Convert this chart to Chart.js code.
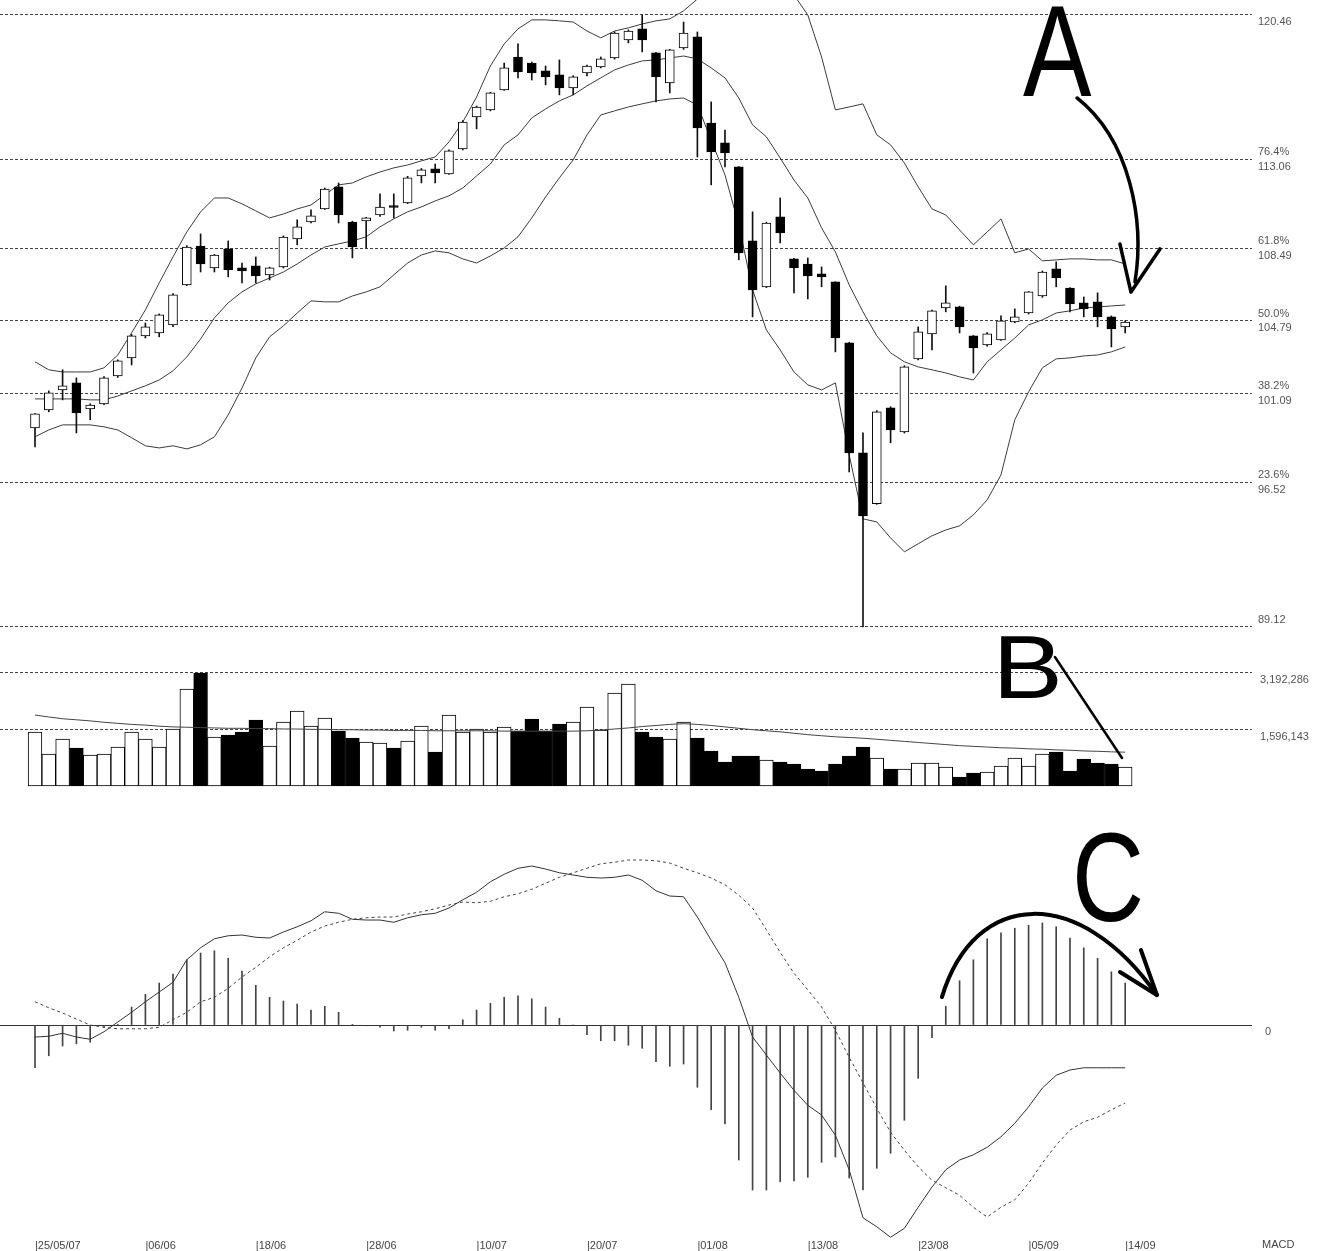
<!DOCTYPE html>
<html>
<head>
<meta charset="utf-8">
<script src="https://cdn.jsdelivr.net/npm/chart.js@4.4.1/dist/chart.umd.min.js"></script>
<style>
  html, body { margin: 0; padding: 0; background: #fff; }
  #wrap { width: 1334px; height: 1251px; }
</style>
</head>
<body>
<div id="wrap"><canvas id="chart" width="1334" height="1251"></canvas></div>
<script>
// trading days shown on the chart
const dates = [
  '25/05/07','28/05/07','29/05/07','30/05/07','31/05/07','01/06/07','04/06/07','05/06/07','06/06/07','07/06/07',
  '08/06/07','11/06/07','12/06/07','13/06/07','14/06/07','15/06/07','18/06/07','19/06/07','20/06/07','21/06/07',
  '22/06/07','25/06/07','26/06/07','27/06/07','28/06/07','29/06/07','02/07/07','03/07/07','04/07/07','05/07/07',
  '06/07/07','09/07/07','10/07/07','11/07/07','12/07/07','13/07/07','16/07/07','17/07/07','18/07/07','19/07/07',
  '20/07/07','23/07/07','24/07/07','25/07/07','26/07/07','27/07/07','30/07/07','31/07/07','01/08/07','02/08/07',
  '03/08/07','06/08/07','07/08/07','08/08/07','09/08/07','10/08/07','13/08/07','14/08/07','15/08/07','16/08/07',
  '17/08/07','20/08/07','21/08/07','22/08/07','23/08/07','24/08/07','28/08/07','29/08/07','30/08/07','31/08/07',
  '03/09/07','04/09/07','05/09/07','06/09/07','07/09/07','10/09/07','11/09/07','12/09/07','13/09/07','14/09/07'
];
const dateTicks = [0, 8, 16, 24, 32, 40, 48, 56, 64, 72, 79];

const openP = [
  99.32,100.24,101.26,101.62,100.29,100.55,101.98,102.90,104.03,104.18,
  104.59,106.64,108.63,107.51,108.48,107.51,107.61,107.15,107.56,108.99,
  109.86,110.53,111.66,109.86,109.91,110.22,110.70,110.84,112.22,112.58,
  112.32,113.60,115.24,115.60,116.62,118.31,118.00,117.60,117.39,116.72,
  117.49,117.80,118.26,119.18,119.75,118.52,116.98,118.77,119.34,114.93,
  113.91,112.68,108.89,106.54,110.12,107.97,107.71,107.20,106.79,103.67,
  98.04,95.43,100.34,99.11,102.85,104.13,105.46,105.51,104.03,103.57,
  103.82,104.74,105.20,106.07,107.46,106.48,105.72,105.77,105.00,104.49
];
const highP = [
  100.05,101.21,102.29,101.88,100.55,101.95,102.80,104.10,104.69,105.15,
  106.20,108.65,109.25,108.20,108.89,107.76,108.07,107.55,109.15,109.97,
  110.48,111.60,111.86,109.90,110.10,111.30,111.30,112.20,112.60,112.83,
  113.55,115.05,115.80,116.50,118.00,118.98,118.05,117.85,118.16,117.35,
  117.90,118.31,119.60,119.70,120.46,118.55,118.70,120.10,119.59,116.01,
  114.57,112.70,110.38,109.85,111.09,108.00,108.02,107.56,106.80,103.70,
  99.06,100.20,100.40,102.50,104.49,105.35,106.59,105.55,104.05,104.20,
  105.05,105.41,106.30,107.35,107.82,106.50,106.02,106.23,105.05,104.80
];
const lowP = [
  98.34,100.14,100.75,99.06,99.73,100.50,101.90,102.54,103.92,103.98,
  104.50,106.60,107.30,107.30,107.05,106.74,106.74,106.89,107.50,108.69,
  109.81,110.50,109.81,108.02,108.53,110.15,110.07,110.80,111.86,111.86,
  112.30,113.55,114.63,115.55,116.60,117.24,117.13,116.88,116.37,116.37,
  117.34,117.75,118.20,119.03,118.57,116.01,116.47,118.70,113.19,111.76,
  112.68,107.92,105.00,106.50,108.79,106.23,105.92,106.54,103.21,97.06,
  89.12,95.40,98.55,99.05,102.80,103.31,105.26,104.18,102.13,103.50,
  103.80,104.70,105.15,106.00,106.54,105.26,105.00,104.49,103.46,104.18
];
const closeP = [
  100.03,101.11,101.47,100.08,100.49,101.88,102.75,104.03,104.49,105.10,
  106.13,108.58,107.71,108.17,107.41,107.36,107.10,107.51,109.09,109.61,
  110.17,111.55,110.22,108.58,110.07,110.63,110.60,112.12,112.53,112.37,
  113.50,114.98,115.75,116.47,117.75,117.54,117.49,117.29,116.72,117.29,
  117.85,118.21,119.54,119.64,119.18,117.29,118.67,119.54,114.68,113.45,
  113.40,108.28,106.38,109.81,109.30,107.51,107.10,107.05,103.92,98.04,
  94.81,100.14,99.21,102.44,104.23,105.31,105.72,104.49,103.41,104.13,
  104.80,105.00,106.28,107.30,107.00,105.66,105.41,105.00,104.38,104.74
];

// bollinger bands
const bbUpper = [
  102.70,102.29,102.18,102.18,102.18,102.39,103.05,104.18,105.36,106.74,
  108.07,109.35,110.38,111.09,111.09,110.79,110.43,110.07,110.27,110.53,
  110.73,111.25,111.76,111.86,112.17,112.42,112.63,112.78,112.99,113.19,
  113.96,114.98,116.26,117.85,118.98,119.75,120.21,120.21,120.16,120.10,
  119.64,119.29,119.64,119.80,120.00,120.16,120.26,120.67,121.28,121.84,
  122.46,123.02,123.38,123.18,122.51,121.49,120.46,118.31,115.60,115.75,
  115.91,114.32,113.81,112.88,111.66,110.53,110.22,109.45,108.69,109.35,
  110.02,108.28,108.48,107.87,107.92,107.97,107.97,107.92,107.92,107.71
];
const bbMiddle = [
  100.80,100.80,100.80,100.80,100.75,100.75,100.95,101.21,101.47,101.77,
  102.24,102.95,103.87,104.95,105.72,106.28,106.69,106.99,107.30,107.71,
  108.17,108.58,108.74,108.89,109.10,109.61,110.02,110.38,110.63,110.94,
  111.20,111.60,112.22,112.83,113.81,114.32,115.19,115.65,116.06,116.37,
  116.83,117.24,117.65,117.90,118.11,118.16,118.26,118.36,118.21,117.75,
  117.24,116.21,114.83,114.22,113.14,112.01,111.09,109.56,108.33,106.64,
  105.26,104.03,103.16,102.70,102.44,102.29,102.13,101.93,101.77,102.70,
  103.31,103.92,104.59,104.85,105.20,105.31,105.46,105.51,105.56,105.61
];
const bbLower = [
  98.86,99.21,99.47,99.47,99.47,99.37,99.21,98.81,98.40,98.29,
  98.40,98.24,98.45,98.86,99.98,101.36,102.90,103.98,104.54,105.20,
  105.82,105.77,105.77,106.07,106.28,106.54,107.15,107.76,108.17,108.38,
  108.28,107.97,107.76,108.12,108.53,109.10,110.07,111.14,112.12,113.04,
  114.32,115.34,115.55,115.75,115.91,116.06,116.16,116.21,115.85,114.06,
  112.27,109.71,106.38,104.33,103.31,102.18,101.52,101.26,101.62,97.93,
  94.66,94.50,93.68,92.97,93.38,93.79,94.09,94.30,94.86,95.63,
  96.91,99.73,101.16,102.39,102.85,102.90,103.00,103.05,103.21,103.46
];

const volume = [
  1525500,904000,1327750,1073500,875750,904000,1101750,1525500,1327750,1101750,
  1610250,2740250,3192286,1384250,1440750,1525500,1864500,1130000,1808000,2118750,
  1695000,1921000,1553750,1356000,1243000,1214750,1073500,1271250,1695000,960500,
  2005750,1525500,1610250,1525500,1666750,1553750,1892750,1553750,1751500,1808000,
  2231750,1582000,2627250,2881500,1525500,1384250,1327750,1808000,1356000,988750,
  678000,847500,847500,734500,678000,621500,480250,423750,621500,847500,
  1101750,791000,480250,480250,649750,649750,536750,254250,367250,395500,
  565000,791000,565000,904000,960500,423750,762750,649750,621500,536750
];
const volumeAvg = [
  2005000,1950000,1900000,1870000,1840000,1800000,1770000,1740000,1720000,1690000,
  1670000,1660000,1650000,1640000,1630000,1630000,1620000,1620000,1610000,1610000,
  1600000,1600000,1590000,1590000,1580000,1580000,1570000,1570000,1570000,1560000,
  1560000,1560000,1560000,1560000,1550000,1550000,1550000,1550000,1550000,1550000,
  1560000,1580000,1610000,1640000,1680000,1710000,1740000,1760000,1740000,1710000,
  1670000,1630000,1590000,1560000,1530000,1490000,1450000,1420000,1390000,1370000,
  1350000,1320000,1290000,1260000,1230000,1200000,1170000,1140000,1120000,1100000,
  1080000,1070000,1050000,1040000,1020000,1010000,990000,980000,965000,955000
];

const macdLine = [
  -0.16,-0.15,-0.11,-0.16,-0.19,-0.09,0.04,0.17,0.31,0.44,
  0.57,0.87,1.03,1.15,1.19,1.20,1.17,1.16,1.24,1.31,
  1.39,1.51,1.49,1.41,1.40,1.40,1.37,1.43,1.47,1.49,
  1.56,1.67,1.77,1.91,2.01,2.09,2.12,2.08,2.03,2.00,
  1.97,1.96,1.97,2.00,1.93,1.79,1.72,1.71,1.44,1.13,
  0.83,0.37,-0.16,-0.40,-0.64,-0.87,-1.07,-1.20,-1.47,-1.93,
  -2.57,-2.69,-2.83,-2.71,-2.43,-2.16,-1.93,-1.80,-1.73,-1.63,
  -1.49,-1.31,-1.09,-0.84,-0.67,-0.60,-0.57,-0.57,-0.57,-0.57
];
const signalLine = [
  0.31,0.23,0.16,0.08,0.00,-0.03,-0.05,-0.05,-0.05,-0.03,
  0.07,0.17,0.31,0.37,0.49,0.64,0.77,0.91,1.03,1.13,
  1.24,1.32,1.37,1.41,1.43,1.44,1.44,1.48,1.51,1.55,
  1.60,1.64,1.63,1.65,1.71,1.75,1.81,1.89,1.97,2.03,
  2.09,2.15,2.17,2.20,2.20,2.19,2.16,2.09,2.03,1.96,
  1.87,1.73,1.56,1.27,0.97,0.69,0.47,0.24,-0.07,-0.43,
  -0.77,-1.11,-1.43,-1.67,-1.89,-2.07,-2.17,-2.27,-2.43,-2.56,
  -2.43,-2.33,-2.11,-1.84,-1.60,-1.40,-1.29,-1.23,-1.13,-1.04
];
const macdHist = [
  -0.57,-0.41,-0.28,-0.25,-0.23,-0.03,0.01,0.24,0.41,0.56,
  0.68,0.87,0.96,0.99,0.89,0.72,0.53,0.37,0.32,0.28,
  0.20,0.25,0.17,0.01,-0.01,-0.03,-0.08,-0.07,-0.03,-0.07,
  -0.05,0.07,0.20,0.29,0.37,0.39,0.35,0.24,0.09,0.00,
  -0.13,-0.21,-0.21,-0.27,-0.31,-0.49,-0.55,-0.52,-0.83,-1.13,
  -1.32,-1.80,-2.20,-2.20,-2.09,-2.08,-2.03,-1.83,-1.76,-2.04,
  -2.20,-1.91,-1.71,-1.27,-0.71,-0.17,0.25,0.59,0.87,1.15,
  1.23,1.29,1.33,1.36,1.31,1.16,1.03,0.89,0.71,0.56
];

// fibonacci retracement levels (low -> high) and volume guide levels
const fibLevels = [89.12, 96.52, 101.09, 104.79, 108.49, 113.06, 120.46];
const fibPct = ['', '23.6%', '38.2%', '50.0%', '61.8%', '76.4%', ''];
const volLevels = [1596143, 3192286];

const isUp = closeP.map((c, i) => c >= openP[i]);
const pts = arr => arr.map((v, i) => ({ x: i, y: v }));

Chart.defaults.font.family = '"Liberation Sans", Arial, sans-serif';

// letters and arrows drawn over the chart, positioned in data units
const notes = [
  { letter: 'A', axis: 'yP', box: [71.6, 76.59, 120.92, 116.31] },
  { letter: 'B', axis: 'yV', box: [70.0, 74.13, 4209250, 2486000] },
  { letter: 'C', axis: 'yM', box: [75.51, 80.14, 2.573, 1.373] }
];
const arrows = [
  { axis: 'yP', width: 3.5, curve: [[75.51, 116.21], [79.35, 114.06], [80.43, 109.96], [79.71, 106.79]],
    head: [[78.62, 108.73], [79.42, 106.27], [81.52, 108.48]] },
  { axis: 'yV', width: 2.5, line: [[73.91, 3644250], [78.77, 791000]] },
  { axis: 'yM', width: 4, curve: [[65.72, 0.373], [68.12, 1.827], [75.72, 1.867], [81.30, 0.40]],
    head: [[80.14, 1.0], [81.30, 0.40], [78.62, 0.707]] }
];

const notesPlugin = {
  id: 'notes',
  // the three value axes share one label column on the right
  afterLayout(chart) {
    const p = chart.scales.yP;
    ['yV', 'yM'].forEach(id => {
      chart.scales[id].left = p.left;
      chart.scales[id].right = p.right;
    });
  },
  afterDraw(chart) {
    const ctx = chart.ctx;
    const sx = chart.scales.x;
    const P = (axis, p) => [sx.getPixelForValue(p[0]), chart.scales[axis].getPixelForValue(p[1])];

    ctx.save();
    ctx.fillStyle = '#000';
    notes.forEach(n => {
      const l = sx.getPixelForValue(n.box[0]), r = sx.getPixelForValue(n.box[1]);
      const t = chart.scales[n.axis].getPixelForValue(n.box[2]);
      const b = chart.scales[n.axis].getPixelForValue(n.box[3]);
      ctx.save();
      ctx.font = '100px "Liberation Sans", Arial, sans-serif';
      ctx.textAlign = 'left';
      ctx.textBaseline = 'alphabetic';
      const m = ctx.measureText(n.letter);
      const w = m.actualBoundingBoxLeft + m.actualBoundingBoxRight;
      const h = m.actualBoundingBoxAscent + m.actualBoundingBoxDescent;
      ctx.translate(l, t);
      ctx.scale((r - l) / w, (b - t) / h);
      ctx.fillText(n.letter, m.actualBoundingBoxLeft, m.actualBoundingBoxAscent);
      ctx.restore();
    });

    ctx.strokeStyle = '#000';
    ctx.lineCap = 'round';
    ctx.lineJoin = 'round';
    arrows.forEach(a => {
      ctx.lineWidth = a.width;
      ctx.beginPath();
      if (a.curve) {
        const c = a.curve.map(p => P(a.axis, p));
        ctx.moveTo(c[0][0], c[0][1]);
        ctx.bezierCurveTo(c[1][0], c[1][1], c[2][0], c[2][1], c[3][0], c[3][1]);
      } else {
        const c = a.line.map(p => P(a.axis, p));
        ctx.moveTo(c[0][0], c[0][1]);
        ctx.lineTo(c[1][0], c[1][1]);
      }
      ctx.stroke();
      if (a.head) {
        const h = a.head.map(p => P(a.axis, p));
        ctx.beginPath();
        ctx.moveTo(h[0][0], h[0][1]);
        ctx.lineTo(h[1][0], h[1][1]);
        ctx.lineTo(h[2][0], h[2][1]);
        ctx.stroke();
      }
    });

    // indicator name under the right axis column
    ctx.fillStyle = '#444';
    ctx.font = '11px "Liberation Sans", Arial, sans-serif';
    ctx.textAlign = 'left';
    ctx.textBaseline = 'top';
    ctx.fillText('MACD', chart.chartArea.right + 10, sx.top);
    ctx.restore();
  }
};

const tickFont = { size: 11, lineHeight: 1.35 };
const fitY = w => s => { s.width = w; s.paddingTop = 0; s.paddingBottom = 0; };

new Chart(document.getElementById('chart'), {
  type: 'bar',
  data: {
    datasets: [
      { type: 'line', data: pts(bbUpper), yAxisID: 'yP', borderColor: '#3c3c3c', borderWidth: 1, pointRadius: 0, order: 3 },
      { type: 'line', data: pts(bbMiddle), yAxisID: 'yP', borderColor: '#3c3c3c', borderWidth: 1, pointRadius: 0, order: 3 },
      { type: 'line', data: pts(bbLower), yAxisID: 'yP', borderColor: '#3c3c3c', borderWidth: 1, pointRadius: 0, order: 3 },
      // wicks
      { data: lowP.map((l, i) => ({ x: i, y: [l, highP[i]] })), yAxisID: 'yP',
        backgroundColor: '#111', maxBarThickness: 1, order: 2 },
      // bodies
      { data: openP.map((o, i) => ({ x: i, y: [o, closeP[i]] })), yAxisID: 'yP',
        backgroundColor: isUp.map(u => u ? '#fff' : '#000'), borderColor: '#000', borderWidth: 1,
        borderSkipped: false, maxBarThickness: 9, order: 1 },
      // volume
      { data: pts(volume), yAxisID: 'yV',
        backgroundColor: isUp.map(u => u ? '#fff' : '#000'), borderColor: '#000', borderWidth: 1,
        borderSkipped: false, order: 2 },
      { type: 'line', data: pts(volumeAvg), yAxisID: 'yV', borderColor: '#444', borderWidth: 1, pointRadius: 0, order: 0 },
      // macd
      { data: pts(macdHist), yAxisID: 'yM', backgroundColor: '#444', maxBarThickness: 1, order: 2 },
      { type: 'line', data: pts(macdLine), yAxisID: 'yM', borderColor: '#333', borderWidth: 1, pointRadius: 0, order: 1 },
      { type: 'line', data: pts(signalLine), yAxisID: 'yM', borderColor: '#444', borderWidth: 1, borderDash: [3, 3], pointRadius: 0, order: 1 }
    ]
  },
  options: {
    responsive: false,
    animation: false,
    layout: { padding: 0 },
    datasets: { bar: { grouped: false, categoryPercentage: 1, barPercentage: 1 } },
    plugins: { legend: { display: false }, tooltip: { enabled: false } },
    scales: {
      x: {
        type: 'linear', min: -2.536, max: 88.19, offset: false,
        afterBuildTicks: s => { s.ticks = dateTicks.map(v => ({ value: v })); },
        afterFit: s => { s.height = 12; s.paddingLeft = 0; s.paddingRight = 0; },
        grid: { display: false, drawTicks: false },
        border: { display: false },
        ticks: {
          align: 'start', padding: 0, autoSkip: false, maxRotation: 0, color: '#444', font: { size: 11 },
          callback: v => '|' + (v === 0 ? dates[v] : dates[v].slice(0, 5))
        }
      },
      yP: {
        type: 'linear', position: 'right', min: 57.78, max: 121.228,
        afterBuildTicks: s => { s.ticks = fibLevels.map(v => ({ value: v })); },
        afterFit: fitY(82),
        grid: { color: '#444', lineWidth: 1, drawTicks: false },
        border: { display: false, dash: [3, 2] },
        ticks: {
          padding: 6, autoSkip: false, color: '#555', font: tickFont,
          callback: (v, i) => {
            const s = fibLevels[i].toFixed(2);
            if (fibPct[i]) return [fibPct[i], s];
            return i === 0 ? [s, ''] : ['', s];
          }
        }
      },
      yV: {
        type: 'linear', position: 'right', min: -12797386, max: 22204736,
        afterBuildTicks: s => { s.ticks = volLevels.map(v => ({ value: v })); },
        afterFit: fitY(0),
        grid: { color: '#444', lineWidth: 1, drawTicks: false },
        border: { display: false, dash: [3, 2] },
        ticks: {
          padding: 8, autoSkip: false, color: '#555', font: tickFont,
          callback: (v, i) => ['', volLevels[i].toLocaleString('en-US')]
        }
      },
      yM: {
        type: 'linear', position: 'right', min: -2.853, max: 13.667,
        afterBuildTicks: s => { s.ticks = [{ value: 0 }]; },
        afterFit: fitY(0),
        grid: { color: '#333', lineWidth: 1, drawTicks: false },
        border: { display: false },
        ticks: {
          padding: 13, autoSkip: false, color: '#555', font: tickFont,
          callback: () => ['', '0']
        }
      }
    }
  },
  plugins: [notesPlugin]
});
</script>
</body>
</html>
